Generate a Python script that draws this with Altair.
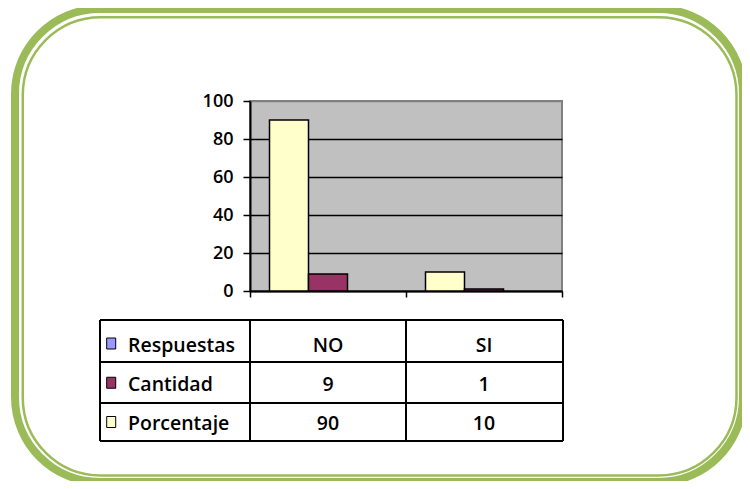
import altair as alt
import pandas as pd

# ---- data ----
respuestas = ["NO", "SI"]
cantidad = [9, 1]
porcentaje = [90, 10]
series_table = ["Respuestas", "Cantidad", "Porcentaje"]
series_bars = ["Porcentaje", "Cantidad", "Respuestas"]
colores = ["#9999FF", "#993366", "#FFFFCC"]
y_ticks = [0, 20, 40, 60, 80, 100]

FONT = "Open Sans"
WEIGHT = 600
GREEN = "#9BBB59"

bars_df = pd.DataFrame({
    "resp": respuestas * 2,
    "serie": ["Porcentaje"] * len(respuestas) + ["Cantidad"] * len(respuestas),
    "valor": porcentaje + cantidad,
})

tbl_rows = []
for i, r in enumerate(respuestas):
    tbl_rows.append({"resp": r, "serie": "Respuestas", "label": r})
    tbl_rows.append({"resp": r, "serie": "Cantidad", "label": str(cantidad[i])})
    tbl_rows.append({"resp": r, "serie": "Porcentaje", "label": str(porcentaje[i])})
table_df = pd.DataFrame(tbl_rows)
series_df = pd.DataFrame({"serie": series_table})
one = pd.DataFrame({"k": [0]})

x_scale = alt.Scale(domain=respuestas, paddingInner=0, paddingOuter=0)
row_scale = alt.Scale(domain=series_table, range=[242.5, 321], padding=0)
color_scale = alt.Scale(domain=series_table, range=colores)


def frame(x, x2, y, y2, width, radius):
    return alt.Chart(one).mark_rect(
        filled=False, stroke=GREEN, strokeWidth=width, cornerRadius=radius
    ).encode(x=alt.value(x), x2=alt.value(x2), y=alt.value(y), y2=alt.value(y2))


def hline(y, x, x2):
    return alt.Chart(one).mark_rule(color="black", strokeWidth=2).encode(
        x=alt.value(x), x2=alt.value(x2), y=alt.value(y))


def vline(x, y, y2):
    return alt.Chart(one).mark_rule(color="black", strokeWidth=2).encode(
        x=alt.value(x), y=alt.value(y), y2=alt.value(y2))


outer = frame(-235, 493, -92, 381, 8, 85)
inner = frame(-227.25, 486.5, -83.8, 374.5, 2.5, 78)

bars = alt.Chart(bars_df).mark_bar(stroke="black", strokeWidth=1.5).encode(
    x=alt.X("resp:N", scale=x_scale, sort=respuestas,
            axis=alt.Axis(labels=False, title=None, tickBand="extent", ticks=True,
                          tickSize=6, tickColor="black", tickWidth=1.5,
                          domainColor="black", domainWidth=2, grid=False)),
    xOffset=alt.XOffset("serie:N", scale=alt.Scale(domain=series_bars, paddingInner=0, paddingOuter=0.5)),
    y=alt.Y("valor:Q", scale=alt.Scale(domain=[0, 100], nice=False),
            axis=alt.Axis(values=y_ticks, title=None, labelFont=FONT, labelFontSize=18,
                          labelFontWeight=WEIGHT, labelColor="black", labelPadding=10,
                          tickSize=7, tickColor="black", tickWidth=1.5,
                          domainColor="black", domainWidth=2,
                          grid=True, gridWidth=1.5,
                          gridColor={"condition": {"test": "datum.value === 100", "value": "#808080"},
                                     "value": "black"})),
    color=alt.Color("serie:N", scale=color_scale, legend=None),
)

table_text = alt.Chart(table_df).mark_text(
    font=FONT, fontSize=19.5, fontWeight=WEIGHT, color="black", baseline="alphabetic", dy=8
).encode(
    x=alt.X("resp:N", scale=x_scale, sort=respuestas),
    y=alt.Y("serie:N", scale=row_scale, axis=None),
    text="label:N",
)

row_labels = alt.Chart(series_df).mark_text(
    font=FONT, fontSize=19.5, fontWeight=WEIGHT, color="black", baseline="alphabetic",
    align="left", dy=8
).encode(
    x=alt.value(-122),
    y=alt.Y("serie:N", scale=row_scale, axis=None),
    text="serie:N",
)

swatches = alt.Chart(series_df).mark_point(
    shape="M-0.82,-1L0.82,-1L0.82,1L-0.82,1Z", filled=True, size=121, stroke="black",
    strokeWidth=1, opacity=1
).encode(
    x=alt.value(-138.8),
    y=alt.Y("serie:N", scale=row_scale, axis=None),
    color=alt.Color("serie:N", scale=color_scale, legend=None),
)

table_lines = [
    hline(219, -150, 313), hline(261, -150, 313), hline(302, -150, 313), hline(340, -150, 313),
    vline(-150, 219, 340), vline(0, 219, 340), vline(156, 219, 340), vline(313, 219, 340),
]

chart = alt.layer(
    outer, inner, bars, *table_lines, table_text, row_labels, swatches
).resolve_scale(y="independent").properties(
    width=312, height=190,
    autosize=alt.AutoSizeParams(type="none"),
    padding={"left": 242, "top": 93, "right": 180, "bottom": 190},
    background="white",
).configure_view(fill="#C0C0C0", stroke="#808080", strokeWidth=2)

chart.save("out.html", embed_options={"renderer": "svg", "actions": False})
